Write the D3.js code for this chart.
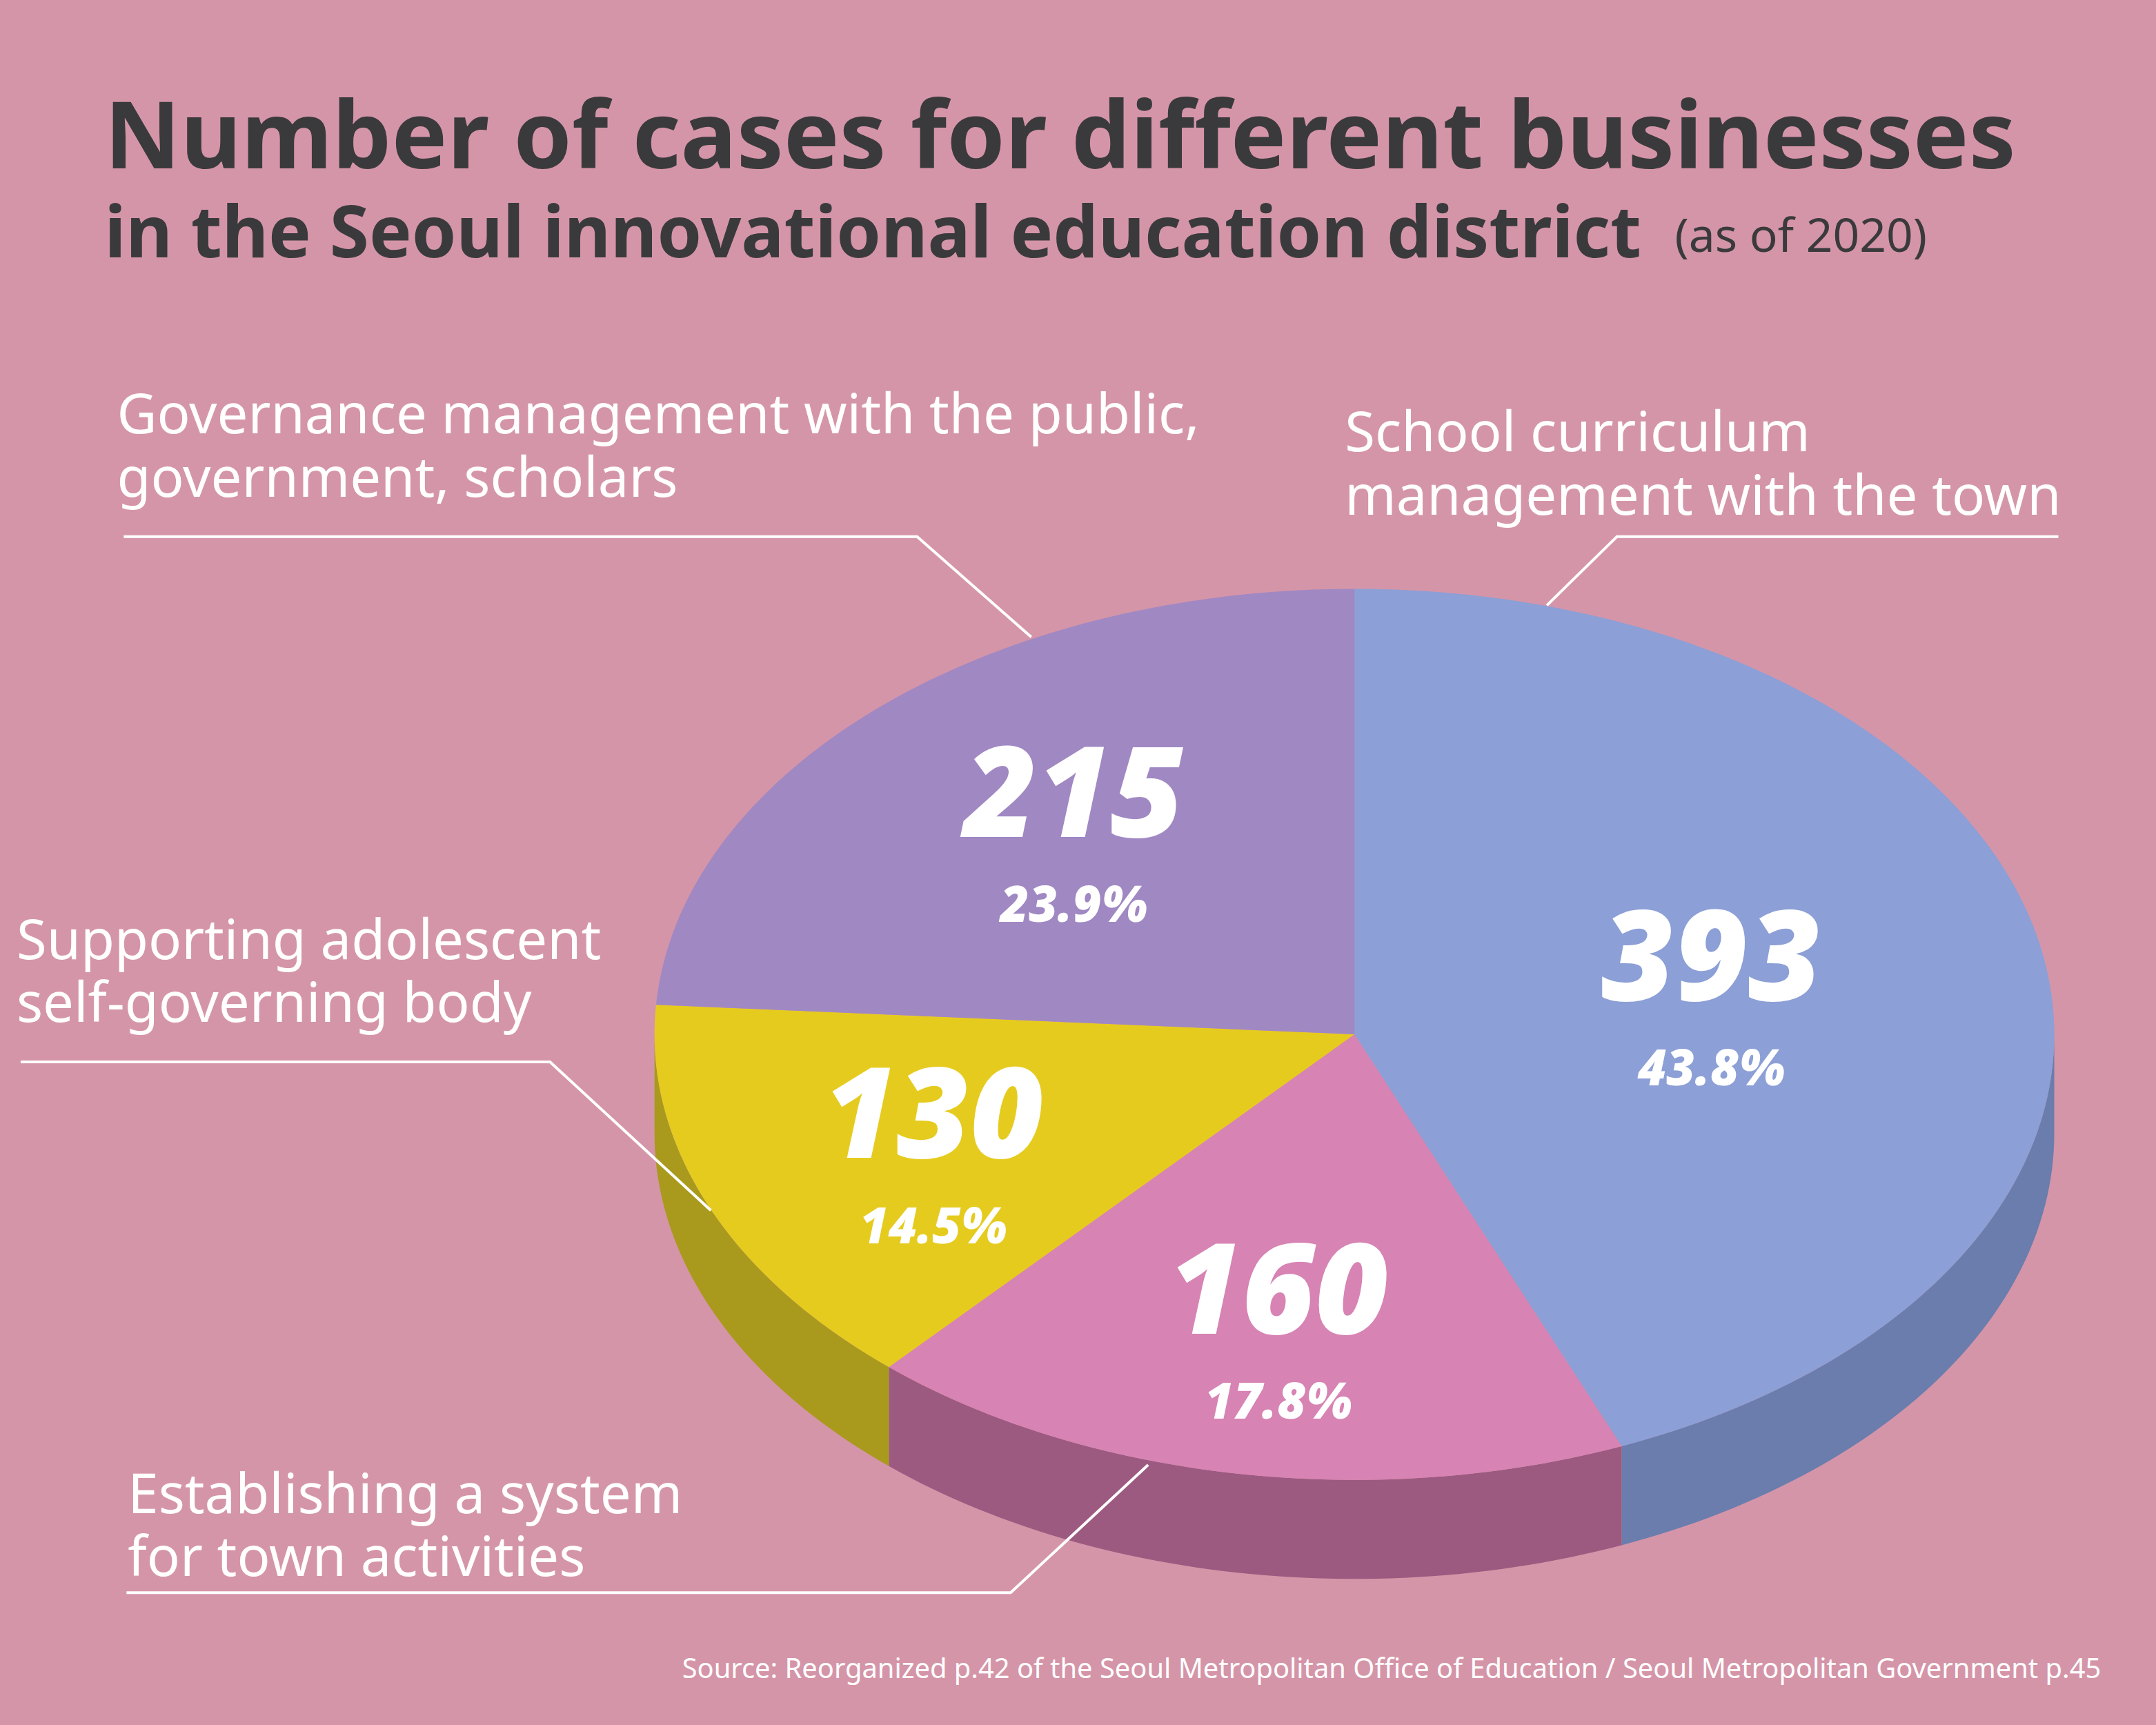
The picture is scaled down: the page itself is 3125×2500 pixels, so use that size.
<!DOCTYPE html>
<html><head><meta charset="utf-8">
<script src="https://cdn.jsdelivr.net/npm/d3@7"></script>
<style>body{margin:0;background:#d595a8}</style>
</head><body>
<svg id="chart" width="3125" height="2500" viewBox="0 0 1568 1254"></svg>
<script>
// data
var categories = ["School curriculum management with the town","Establishing a system for town activities","Supporting adolescent self-governing body","Governance management with the public, government, scholars"];
var values = [393, 160, 130, 215];
var percents = ["43.8%", "17.8%", "14.5%", "23.9%"];
var topColors = ["#8c9fd6", "#d783b3", "#e6cb1f", "#a088c3"];
var sideColors = ["#6a7dad", "#9c5a80", "#a99a1d", "#7d6a9a"];

var svg = d3.select("#chart");
svg.append("rect").attr("width", 1568).attr("height", 1254).attr("fill", "#d595a8");

var cx = 985, cy = 752, rx = 509, ry = 324, depth = 72;
function pt(a, dy) { return [cx + rx * Math.sin(a), cy - ry * Math.cos(a) + (dy || 0)]; }
function arcPts(a0, a1, dy) {
    var n = Math.max(2, Math.ceil((a1 - a0) / 0.02)), p = [];
    for (var i = 0; i <= n; i++) p.push(pt(a0 + (a1 - a0) * i / n, dy));
    return p;
}
var line = d3.line();
var arcs = d3.pie().sort(null)(values);

// side walls (visible half only)
arcs.forEach(function(d, i) {
    var a0 = Math.max(d.startAngle, Math.PI / 2), a1 = Math.min(d.endAngle, Math.PI * 1.5);
    if (a1 <= a0) return;
    var p = arcPts(a0, a1, 0).concat(arcPts(a0, a1, depth).reverse());
    svg.append("path").attr("d", line(p) + "Z").attr("fill", sideColors[i]);
});
// top faces
arcs.forEach(function(d, i) {
    var p = [[cx, cy]].concat(arcPts(d.startAngle, d.endAngle, 0));
    svg.append("path").attr("d", line(p) + "Z").attr("fill", topColors[i]);
});
// value labels
arcs.forEach(function(d, i) {
    var m = (d.startAngle + d.endAngle) / 2, f = 0.65;
    var x = cx + rx * f * Math.sin(m), y = cy - ry * f * Math.cos(m);
    if (i == 0) { f = 0.52; x = cx + rx * f * Math.sin(m); y = cy - ry * f * Math.cos(m) - 2; }
    if (i == 3) x += 22;
    svg.append("text").attr("x", x).attr("y", y + 10).attr("text-anchor", "middle")
        .attr("font-family", "Noto Sans").attr("font-weight", 900).attr("font-style", "italic")
        .attr("font-size", 92).attr("fill", "#fff").text(values[i]);
    svg.append("text").attr("x", x).attr("y", y + 72).attr("text-anchor", "middle")
        .attr("font-family", "Noto Sans").attr("font-weight", 900).attr("font-style", "italic")
        .attr("font-size", 36).attr("fill", "#fff").text(percents[i]);
});

// titles
svg.append("text").attr("x", 76).attr("y", 122).attr("font-family", "Noto Sans").attr("font-weight", 700)
    .attr("font-size", 68).attr("fill", "#3a3a3c").text("Number of cases for different businesses");
svg.append("text").attr("x", 76).attr("y", 187).attr("font-family", "Noto Sans").attr("font-weight", 700)
    .attr("font-size", 52).attr("fill", "#3a3a3c").text("in the Seoul innovational education district");
svg.append("text").attr("x", 1218).attr("y", 183).attr("font-family", "Noto Sans")
    .attr("font-size", 34).attr("fill", "#3a3a3c").text("(as of 2020)");

// category labels with leaders
var labelLines = [
    [["School curriculum", "management with the town"], 978, 328, [[1497,390],[1176,390],[1125,440]]],
    [["Establishing a system", "for town activities"], 93, 1100, [[92,1158],[735,1158],[835,1065]]],
    [["Supporting adolescent", "self-governing body"], 12, 697, [[15,772],[400,772],[517,880]]],
    [["Governance management with the public,", "government, scholars"], 85, 315, [[90,390],[667,390],[750,463]]]
];
labelLines.forEach(function(l) {
    l[0].forEach(function(t, j) {
        svg.append("text").attr("x", l[1]).attr("y", l[2] + j * 46).attr("font-family", "Noto Sans")
            .attr("font-size", 40).attr("fill", "#fff").text(t);
    });
    svg.append("path").attr("d", line(l[3])).attr("fill", "none").attr("stroke", "#fff").attr("stroke-width", 2);
});

svg.append("text").attr("x", 1528).attr("y", 1220).attr("text-anchor", "end").attr("font-family", "Noto Sans")
    .attr("font-size", 20).attr("fill", "#fff")
    .text("Source: Reorganized p.42 of the Seoul Metropolitan Office of Education / Seoul Metropolitan Government p.45");
</script>
</body></html>
